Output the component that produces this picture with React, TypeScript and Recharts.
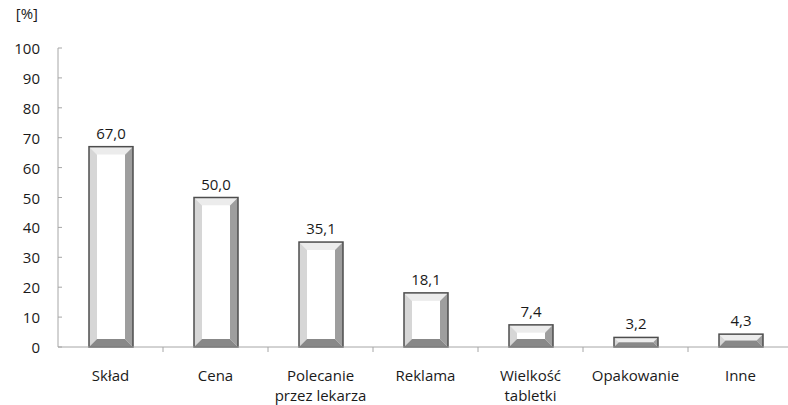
import React from 'react';
import { BarChart, Bar, XAxis, YAxis, LabelList } from 'recharts';

const categories = ['Skład', 'Cena', 'Polecanie\nprzez lekarza', 'Reklama', 'Wielkość\ntabletki', 'Opakowanie', 'Inne'];
const values = [67.0, 50.0, 35.1, 18.1, 7.4, 3.2, 4.3];
const yTicks = [0, 10, 20, 30, 40, 50, 60, 70, 80, 90, 100];

const data = categories.map((name, i) => ({ name, value: values[i] }));

const W = 788;
const H = 405;
const LEFT = 58;
const CHART_W = 793;
const PLOT_W = CHART_W - LEFT;
const FONT = '"Open Sans", "Liberation Sans", sans-serif';
const FS = 15;

const BevelBar = (props: any) => {
  const { x, y, width: w, height: h } = props;
  if (h <= 0) return null;
  const b = Math.min(8, h / 2, w / 2);
  return (
    <g>
      <polygon points={`${x},${y} ${x + w},${y} ${x + w - b},${y + b} ${x + b},${y + b}`} fill="#ececec" />
      <polygon points={`${x},${y} ${x + b},${y + b} ${x + b},${y + h - b} ${x},${y + h}`} fill="#d6d6d6" />
      <polygon points={`${x + w},${y} ${x + w},${y + h} ${x + w - b},${y + h - b} ${x + w - b},${y + b}`} fill="#9e9e9e" />
      <polygon points={`${x},${y + h} ${x + b},${y + h - b} ${x + w - b},${y + h - b} ${x + w},${y + h}`} fill="#888888" />
      <rect x={x + b} y={y + b} width={Math.max(0, w - 2 * b)} height={Math.max(0, h - 2 * b)} fill="#ffffff" />
      <rect x={x} y={y} width={w} height={h} fill="none" stroke="#4d4d4d" strokeWidth={1.5} />
    </g>
  );
};

const YTick = (props: any) => {
  const { x, y, payload } = props;
  return (
    <g>
      <line x1={x + 8} y1={y} x2={x + 12} y2={y} stroke="#a6a6a6" />
      <text x={x - 10} y={y} textAnchor="end" dominantBaseline="central" fontSize={FS} fill="#1a1a1a" fontFamily={FONT}>
        {payload.value}
      </text>
    </g>
  );
};

const XTick = (props: any) => {
  const { x, y, payload, index } = props;
  const band = PLOT_W / categories.length;
  const lines = String(payload.value).split('\n');
  return (
    <g>
      {index < categories.length - 1 && (
        <line x1={x + band / 2} y1={y - 8} x2={x + band / 2} y2={y - 3} stroke="#a6a6a6" />
      )}
      <text x={x} y={y + 26} textAnchor="middle" fontSize={FS} fill="#1a1a1a" fontFamily={FONT}>
        {lines.map((l, i) => (
          <tspan key={i} x={x} dy={i === 0 ? 0 : 20}>{l}</tspan>
        ))}
      </text>
    </g>
  );
};

export default function App() {
  return (
    <div style={{ position: 'absolute', left: 0, top: 0, width: W, height: H, background: '#fff', overflow: 'hidden' }}>
      <BarChart width={CHART_W} height={H} data={data} margin={{ top: 48, right: 0, left: 0, bottom: 0 }}>
        <text x={38} y={19} textAnchor="end" fontSize={FS} fill="#1a1a1a" fontFamily={FONT}>[%]</text>
        <XAxis
          dataKey="name"
          axisLine={{ stroke: '#a6a6a6' }}
          tickLine={false}
          tick={<XTick />}
          interval={0}
          height={58}
        />
        <YAxis
          domain={[0, 100]}
          ticks={yTicks}
          width={LEFT}
          axisLine={{ stroke: '#a6a6a6' }}
          tickLine={false}
          tick={<YTick />}
          interval={0}
        />
        <Bar dataKey="value" barSize={44} shape={<BevelBar />} isAnimationActive={false}>
          <LabelList
            dataKey="value"
            position="top"
            offset={8}
            formatter={(v: any) => Number(v).toFixed(1).replace('.', ',')}
            style={{ fontSize: FS, fill: '#1a1a1a', fontFamily: FONT }}
          />
        </Bar>
      </BarChart>
    </div>
  );
}
